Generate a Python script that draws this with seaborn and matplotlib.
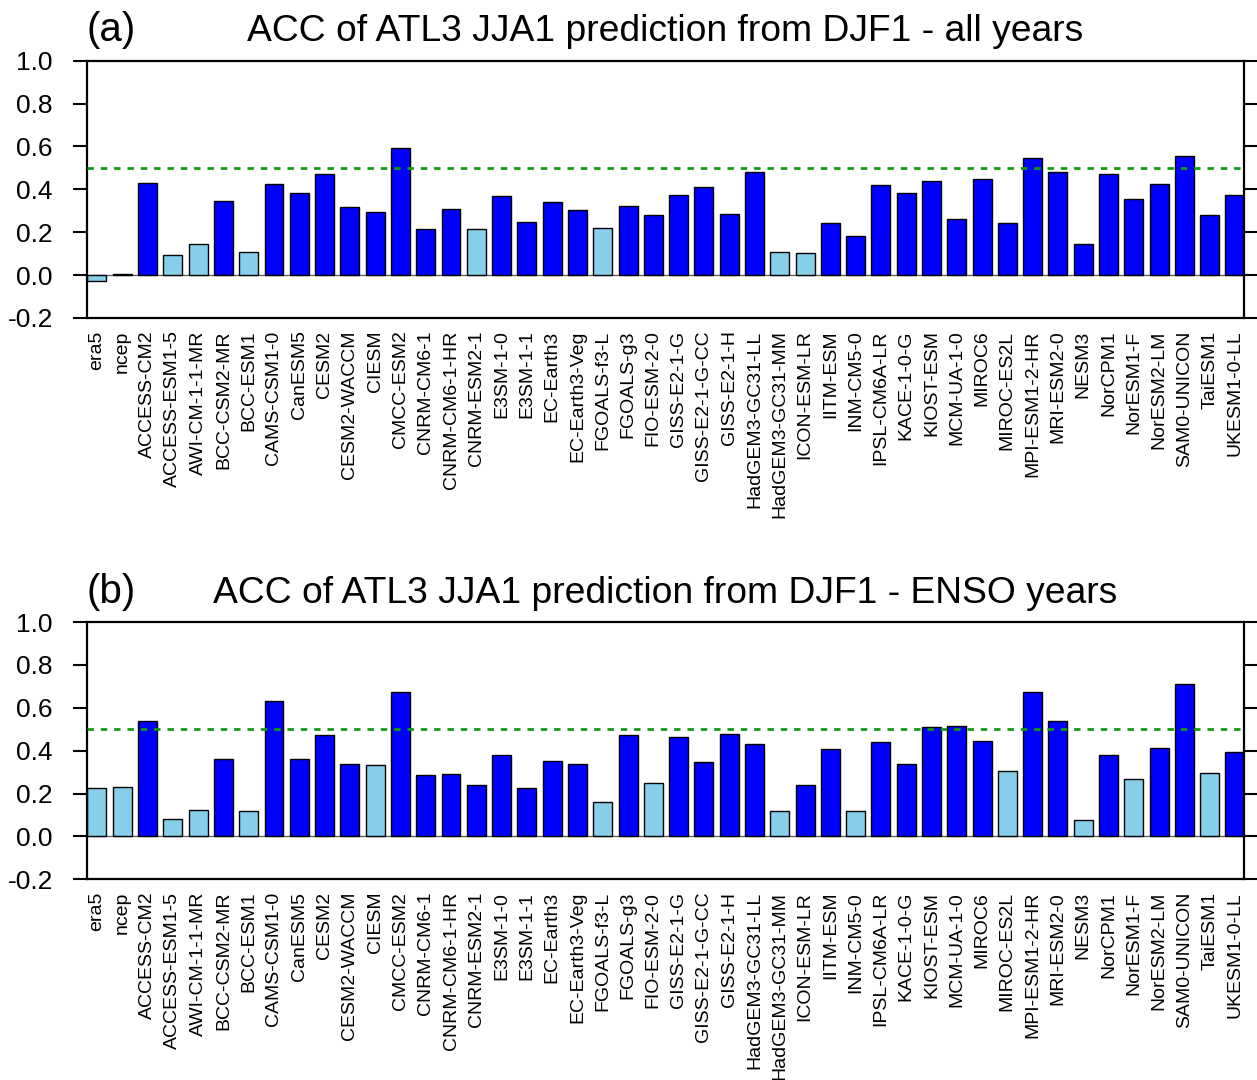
#!/usr/bin/env python3
"""ACC of ATL3 JJA1 prediction from DJF1: all years (a) and ENSO years (b)."""

import matplotlib

matplotlib.use("Agg")
import matplotlib.pyplot as plt
import pandas as pd
import seaborn as sns

MODELS = [
    "era5", "ncep", "ACCESS-CM2", "ACCESS-ESM1-5", "AWI-CM-1-1-MR", "BCC-CSM2-MR",
    "BCC-ESM1", "CAMS-CSM1-0", "CanESM5", "CESM2", "CESM2-WACCM", "CIESM",
    "CMCC-ESM2", "CNRM-CM6-1", "CNRM-CM6-1-HR", "CNRM-ESM2-1", "E3SM-1-0",
    "E3SM-1-1", "EC-Earth3", "EC-Earth3-Veg", "FGOALS-f3-L", "FGOALS-g3",
    "FIO-ESM-2-0", "GISS-E2-1-G", "GISS-E2-1-G-CC", "GISS-E2-1-H",
    "HadGEM3-GC31-LL", "HadGEM3-GC31-MM", "ICON-ESM-LR", "IITM-ESM", "INM-CM5-0",
    "IPSL-CM6A-LR", "KACE-1-0-G", "KIOST-ESM", "MCM-UA-1-0", "MIROC6",
    "MIROC-ES2L", "MPI-ESM1-2-HR", "MRI-ESM2-0", "NESM3", "NorCPM1", "NorESM1-F",
    "NorESM2-LM", "SAM0-UNICON", "TaiESM1", "UKESM1-0-LL",
]

# panel (a): all years
ACC_ALL = [
    -0.028, 0.005, 0.430, 0.093, 0.145, 0.347, 0.107, 0.424, 0.383, 0.473,
    0.318, 0.294, 0.592, 0.213, 0.306, 0.214, 0.368, 0.248, 0.340, 0.303,
    0.220, 0.323, 0.278, 0.374, 0.410, 0.284, 0.483, 0.106, 0.104, 0.244,
    0.180, 0.419, 0.384, 0.438, 0.261, 0.449, 0.244, 0.545, 0.481, 0.143,
    0.472, 0.354, 0.425, 0.554, 0.278, 0.373,
]
SIG_ALL = [
    0, 0, 1, 0, 0, 1, 0, 1, 1, 1, 1, 1, 1, 1, 1, 0, 1, 1, 1, 1, 0, 1, 1,
    1, 1, 1, 1, 0, 0, 1, 1, 1, 1, 1, 1, 1, 1, 1, 1, 1, 1, 1, 1, 1, 1, 1,
]

# panel (b): ENSO years
ACC_ENSO = [
    0.228, 0.231, 0.540, 0.082, 0.124, 0.360, 0.120, 0.633, 0.363, 0.472,
    0.338, 0.332, 0.676, 0.287, 0.292, 0.239, 0.380, 0.225, 0.352, 0.337,
    0.161, 0.473, 0.250, 0.462, 0.346, 0.479, 0.432, 0.118, 0.240, 0.408,
    0.118, 0.440, 0.337, 0.510, 0.515, 0.444, 0.306, 0.673, 0.538, 0.079,
    0.380, 0.270, 0.412, 0.709, 0.298, 0.394,
]
SIG_ENSO = [
    0, 0, 1, 0, 0, 1, 0, 1, 1, 1, 1, 0, 1, 1, 1, 1, 1, 1, 1, 1, 0, 1, 0,
    1, 1, 1, 1, 0, 1, 1, 0, 1, 1, 1, 1, 1, 0, 1, 1, 0, 1, 0, 1, 1, 0, 1,
]

TITLES = [
    "ACC of ATL3 JJA1 prediction from DJF1 - all years",
    "ACC of ATL3 JJA1 prediction from DJF1 - ENSO years",
]
PANEL_TAGS = ["(a)", "(b)"]
Y_TICKS = [-0.2, 0.0, 0.2, 0.4, 0.6, 0.8, 1.0]
THRESHOLD = 0.5

PALETTE = {1: "#0000ff", 0: "#87ceeb"}

sns.set_style("white")
plt.rcParams["font.family"] = ["Liberation Sans", "DejaVu Sans"]
plt.rcParams["axes.unicode_minus"] = False
plt.rcParams["text.color"] = "black"
plt.rcParams["xtick.color"] = "black"
plt.rcParams["ytick.color"] = "black"

fig = plt.figure(figsize=(12.57, 10.8), dpi=100)
axes = [
    fig.add_axes([0.0692, 0.7056, 0.9205, 0.2382]),
    fig.add_axes([0.0692, 0.1858, 0.9205, 0.2382]),
]

for ax, acc, sig, title, tag in zip(axes, [ACC_ALL, ACC_ENSO], [SIG_ALL, SIG_ENSO], TITLES, PANEL_TAGS):
    df = pd.DataFrame({"model": MODELS, "acc": acc, "sig": sig})
    ax.axhline(0.0, color="0.35", linewidth=0.9, zorder=1)
    sns.barplot(
        data=df,
        x="model",
        y="acc",
        hue="sig",
        palette=PALETTE,
        dodge=False,
        legend=False,
        width=0.75,
        edgecolor="black",
        linewidth=1.0,
        saturation=1,
        zorder=2,
        ax=ax,
    )
    ax.axhline(THRESHOLD, color="#129a12", linewidth=2.0, dashes=(2.3, 2.5), zorder=3)

    ax.set_xlim(-0.395, 45.36)
    ax.set_ylim(-0.2, 1.0)
    ax.set_yticks(Y_TICKS)
    ax.set_yticklabels([f"{v:.1f}" for v in Y_TICKS])
    ax.set_xlabel("")
    ax.set_ylabel("")

    ax.tick_params(axis="y", which="both", direction="out", length=10, width=1.5,
                   labelsize=19, pad=14.5, left=True, right=True, labelright=False)
    ax.tick_params(axis="x", length=0, labelsize=14, pad=9, labelrotation=90)

    for spine in ax.spines.values():
        spine.set_visible(True)
        spine.set_linewidth(1.6)
        spine.set_color("black")

    ax.set_title(title, fontsize=26.8, pad=14)
    ax.set_title(tag, fontsize=29, pad=14, loc="left")

fig.savefig("out.png", dpi=100)
